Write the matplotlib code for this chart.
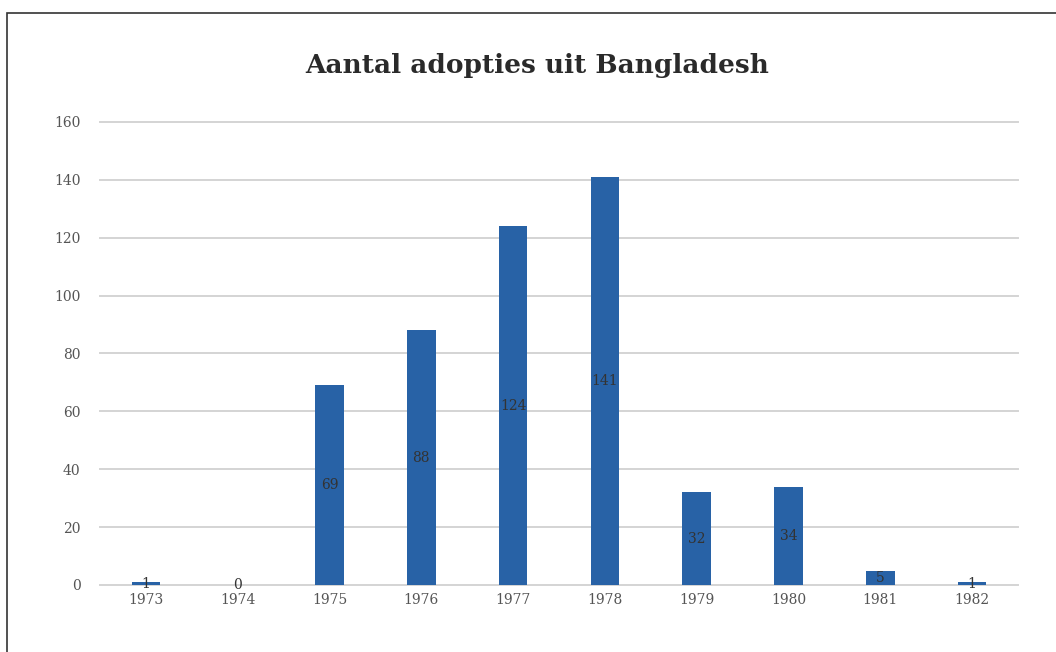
import matplotlib.pyplot as plt
import numpy as np
from matplotlib.patches import Rectangle

years = ['1973', '1974', '1975', '1976', '1977', '1978', '1979', '1980', '1981', '1982']
adopties = [1, 0, 69, 88, 124, 141, 32, 34, 5, 1]

plt.rcParams['font.family'] = ['DejaVu Serif']

fig = plt.figure(figsize=(10.56, 6.52), dpi=100)
ax = fig.add_axes([0.0947, 0.1028, 0.8693, 0.7101])

x = np.arange(len(years))
bars = ax.bar(x, adopties, width=0.31, color='#2862a6', zorder=3)

for xi, v in zip(x, adopties):
    ax.text(xi, v / 2, str(v), ha='center', va='center', fontsize=10, color='#333333', zorder=4)

ax.set_xlim(-0.5, 9.5)
ax.set_ylim(0, 160)
ax.set_yticks(range(0, 161, 20))
ax.set_xticks(x)
ax.set_xticklabels(years)
ax.tick_params(length=0, labelsize=10, labelcolor='#555555')
ax.tick_params(axis='y', pad=14)
ax.tick_params(axis='x', pad=6)
ax.grid(axis='y', color='#d4d4d4', linewidth=1.4, zorder=0)
for line in ax.get_ygridlines():
    line.set_clip_on(False)
for s in ax.spines.values():
    s.set_visible(False)

fig.text(0.509, 0.9, 'Aantal adopties uit Bangladesh', ha='center', va='center',
         fontsize=19, fontweight='bold', color='#2a2a2a')

# outer frame of the chart area
fig.patches.append(Rectangle((7 / 1056, -0.1), 1.2, (652 - 13) / 652 + 0.1,
                             transform=fig.transFigure, fill=False,
                             edgecolor='#333333', linewidth=1.2))

fig.savefig('out.png', dpi=100)
